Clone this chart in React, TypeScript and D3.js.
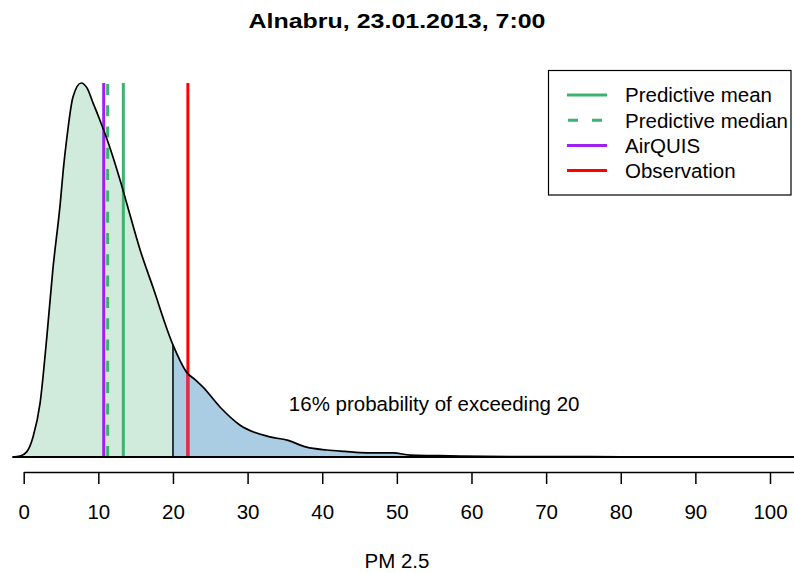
import React, { useEffect, useRef } from "react";
import * as d3 from "d3";

// ---- Data ----
const densityX = [-1.5, -0.5, 0.4, 1.25, 2.2, 3.1, 3.9, 4.9, 5.3, 5.8, 6.6, 7.7, 8.5, 9.3, 10.2, 11.2, 12.9, 13.8, 15.6, 17.3, 20.0, 21.9, 23.0, 24.0, 26.3, 29.0, 33.0, 35.3, 37.9, 40.6, 43.0, 46.0, 49.5, 51.8, 55.0, 58.5, 65.0, 72.0, 80.0, 90.0, 106.0];
const densityY = [0, 0.0002, 0.0011, 0.0043, 0.0116, 0.0257, 0.04, 0.0543, 0.0614, 0.0685, 0.077, 0.08, 0.0789, 0.0757, 0.0721, 0.0678, 0.0593, 0.0543, 0.0443, 0.0364, 0.024, 0.018, 0.0165, 0.015, 0.0107, 0.0068, 0.0043, 0.0036, 0.0021, 0.0015, 0.0012, 0.0009, 0.0009, 0.0004, 0.0003, 0.0002, 0.0001, 0.00008, 0.00005, 0.00004, 0.00003];
const tickValues = [0, 10, 20, 30, 40, 50, 60, 70, 80, 90, 100];
const threshold = 20;
const exceedText = "16% probability of exceeding 20";
const exceedTextX = 55;
const titleText = "Alnabru, 23.01.2013, 7:00";
const xLabel = "PM 2.5";
const legendLabels = ["Predictive mean", "Predictive median", "AirQUIS", "Observation"];
const legendColors = ["#3CB371", "#3CB371", "#A020F0", "#FF0000"];
const legendDashed = [false, true, false, false];
const markerValues = [13.35, 11.25, 10.72, 22.0];

const W = 794;
const H = 573;
const FONT = "'Liberation Sans', Arial, Helvetica, sans-serif";
const FS = 20.5;

export default function App() {
  const ref = useRef<SVGSVGElement | null>(null);

  useEffect(() => {
    const svg = d3.select(ref.current);
    svg.selectAll("*").remove();

    const x = d3.scaleLinear().domain([0, 100]).range([23.7, 770]);
    const y = d3.scaleLinear().domain([0, 0.08]).range([457, 83]);
    const data = densityX.map((v, i) => ({ x: v, y: densityY[i] }));

    const defs = svg.append("defs");
    defs.append("clipPath").attr("id", "leftClip")
      .append("rect").attr("x", 0).attr("y", 0).attr("width", x(threshold)).attr("height", H);
    defs.append("clipPath").attr("id", "rightClip")
      .append("rect").attr("x", x(threshold)).attr("y", 0).attr("width", W - x(threshold)).attr("height", H);

    const area = d3.area<{ x: number; y: number }>()
      .x((d) => x(d.x)).y0(y(0)).y1((d) => y(d.y)).curve(d3.curveMonotoneX);
    const line = d3.line<{ x: number; y: number }>()
      .x((d) => x(d.x)).y((d) => y(d.y)).curve(d3.curveMonotoneX);

    defs.append("clipPath").attr("id", "blueArea")
      .attr("clip-path", "url(#rightClip)")
      .append("path").attr("d", area(data) as string);

    // title
    svg.append("text").attr("x", 397).attr("y", 28).attr("text-anchor", "middle")
      .attr("font-family", FONT).attr("font-weight", "bold").attr("font-size", 21)
      .attr("textLength", 297).attr("lengthAdjust", "spacingAndGlyphs").text(titleText);

    // fills
    svg.append("path").attr("d", area(data) as string).attr("fill", "#D0EBDC").attr("clip-path", "url(#leftClip)");
    svg.append("path").attr("d", area(data) as string).attr("fill", "#ABCDE3").attr("clip-path", "url(#rightClip)");

    // marker lines (drawn from bottom to top)
    const order = [2, 1, 0, 3];
    order.forEach((i) => {
      svg.append("line")
        .attr("x1", x(markerValues[i])).attr("x2", x(markerValues[i]))
        .attr("y1", y(0)).attr("y2", y(0.08))
        .attr("stroke", legendColors[i]).attr("stroke-width", 3)
        .attr("stroke-dasharray", legendDashed[i] ? "11 10.3" : null);
    });
    // observation line where it lies under the blue fill
    const blueG = svg.append("g").attr("clip-path", "url(#blueArea)");
    blueG.append("line")
      .attr("x1", x(markerValues[3])).attr("x2", x(markerValues[3]))
      .attr("y1", y(0)).attr("y2", y(0.08))
      .attr("stroke", "#DA2F4E").attr("stroke-width", 3);

    // threshold line
    const idx = densityX.indexOf(threshold);
    svg.append("line").attr("x1", x(threshold)).attr("x2", x(threshold))
      .attr("y1", y(0)).attr("y2", y(densityY[idx]))
      .attr("stroke", "#000").attr("stroke-width", 1.5);

    // baseline and curve
    svg.append("line").attr("x1", x(densityX[0])).attr("x2", W).attr("y1", y(0)).attr("y2", y(0))
      .attr("stroke", "#000").attr("stroke-width", 1.8);
    svg.append("path").attr("d", line(data) as string).attr("fill", "none")
      .attr("stroke", "#000").attr("stroke-width", 1.7);

    // annotation
    svg.append("text").attr("x", x(exceedTextX)).attr("y", 411).attr("text-anchor", "middle")
      .attr("font-family", FONT).attr("font-size", FS).text(exceedText);

    // axis
    const xAxisScale = x.copy().domain([0, x.invert(W + 2)]).range([x(0), W + 2]);
    const axis = d3.axisBottom(xAxisScale).tickValues(tickValues).tickSize(12).tickSizeOuter(0).tickPadding(20.5)
      .tickFormat((d) => String(d));
    const ag = svg.append("g").attr("transform", "translate(0,472)").call(axis);
    ag.select(".domain").attr("stroke", "#000").attr("stroke-width", 1.5);
    ag.selectAll(".tick line").attr("stroke", "#000").attr("stroke-width", 1.5);
    ag.selectAll(".tick text").attr("fill", "#000").attr("font-family", FONT).attr("font-size", FS);
    ag.attr("font-family", FONT).attr("font-size", FS);

    svg.append("text").attr("x", 397).attr("y", 568).attr("text-anchor", "middle")
      .attr("font-family", FONT).attr("font-size", FS).text(xLabel);

    // legend
    const lg = svg.append("g");
    lg.append("rect").attr("x", 548.5).attr("y", 70.5).attr("width", 242.5).attr("height", 124.5)
      .attr("fill", "#fff").attr("stroke", "#000").attr("stroke-width", 1.2);
    legendLabels.forEach((lab, i) => {
      const cy = 95 + i * 25.2;
      lg.append("line").attr("x1", 567).attr("x2", 607).attr("y1", cy).attr("y2", cy)
        .attr("stroke", legendColors[i]).attr("stroke-width", 3)
        .attr("stroke-dasharray", legendDashed[i] ? "10 14" : null)
        .attr("stroke-dashoffset", legendDashed[i] ? -1 : null);
      lg.append("text").attr("x", 625).attr("y", cy + 7.3).attr("font-family", FONT)
        .attr("font-size", FS).attr("fill", "#000").text(lab);
    });
  }, []);

  return (
    <svg ref={ref} width={W} height={H} viewBox={`0 0 ${W} ${H}`}
      style={{ position: "absolute", left: 0, top: 0, background: "#fff", display: "block" }} />
  );
}
